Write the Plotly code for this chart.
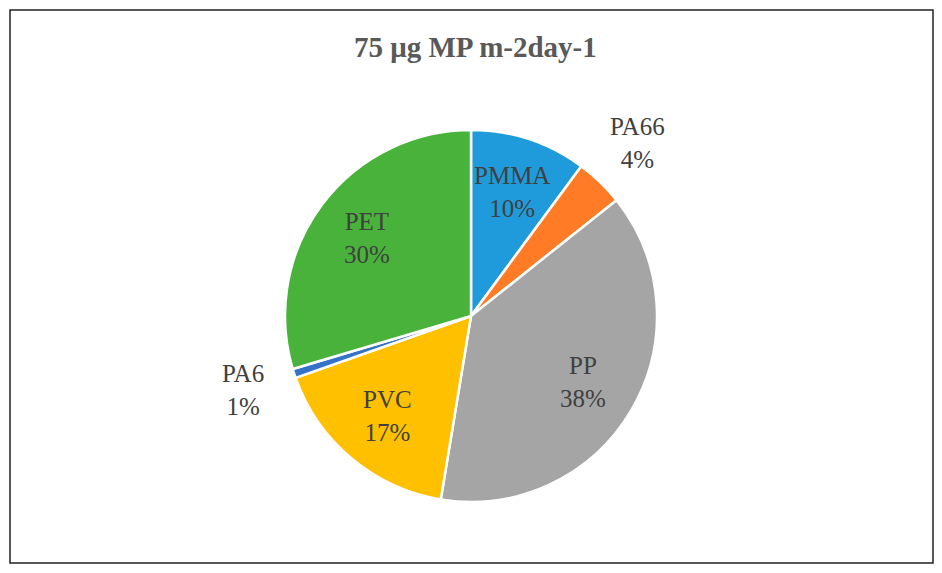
import math
import plotly.graph_objects as go

labels = ["PMMA", "PA66", "PP", "PVC", "PA6", "PET"]
values = [10.1, 4.2, 38.3, 17.0, 0.8, 29.6]
colors = ["#1F9BDB", "#FF7B26", "#A5A5A5", "#FFC000", "#3573C6", "#49B23B"]
label_pos = ["inside", "outside", "inside", "inside", "outside", "inside"]
title_text = "75 μg MP m-2day-1"

W, H = 942, 573
cx, cy, R = 471, 316, 186  # pie centre / radius in pixels

dom_x = [(cx - R) / W, (cx + R) / W]
dom_y = [(H - cy - R) / H, (H - cy + R) / H]

fig = go.Figure(go.Pie(
    labels=labels, values=values, sort=False, direction="clockwise", rotation=0,
    marker=dict(colors=colors, line=dict(color="white", width=2.5)),
    textinfo="none", hoverinfo="label+percent", showlegend=False,
    domain=dict(x=dom_x, y=dom_y),
))

total = sum(values)
cum = 0
ann = []
font = dict(family="Liberation Serif, Times New Roman, serif", size=25, color="#404040")
for lab, v, pos in zip(labels, values, label_pos):
    mid = (cum + v / 2) / total * 2 * math.pi
    cum += v
    rf = 0.70 if pos == "inside" else 1.29
    px = cx + rf * R * math.sin(mid)
    py = cy - rf * R * math.cos(mid)
    ann.append(dict(
        x=px / W, y=1 - py / H, xref="paper", yref="paper",
        text=f"{lab}<br>{round(v / total * 100):.0f}%",
        showarrow=False, font=font, align="center",
        xanchor="center", yanchor="middle",
    ))

ann.append(dict(
    x=475 / W, y=1 - 47 / H, xref="paper", yref="paper",
    text=f"<b>{title_text}</b>", showarrow=False,
    font=dict(family="Liberation Serif, Times New Roman, serif", size=29, color="#595959"),
    xanchor="center", yanchor="middle",
))

fig.update_layout(
    width=W, height=H, margin=dict(l=0, r=0, t=0, b=0),
    paper_bgcolor="white", plot_bgcolor="white",
    annotations=ann,
    shapes=[dict(type="rect", xref="paper", yref="paper",
                 x0=10 / W, x1=933 / W, y0=1 - 563 / H, y1=1 - 10 / H,
                 line=dict(color="#222222", width=1.5))],
)

fig.write_html("out.html")
